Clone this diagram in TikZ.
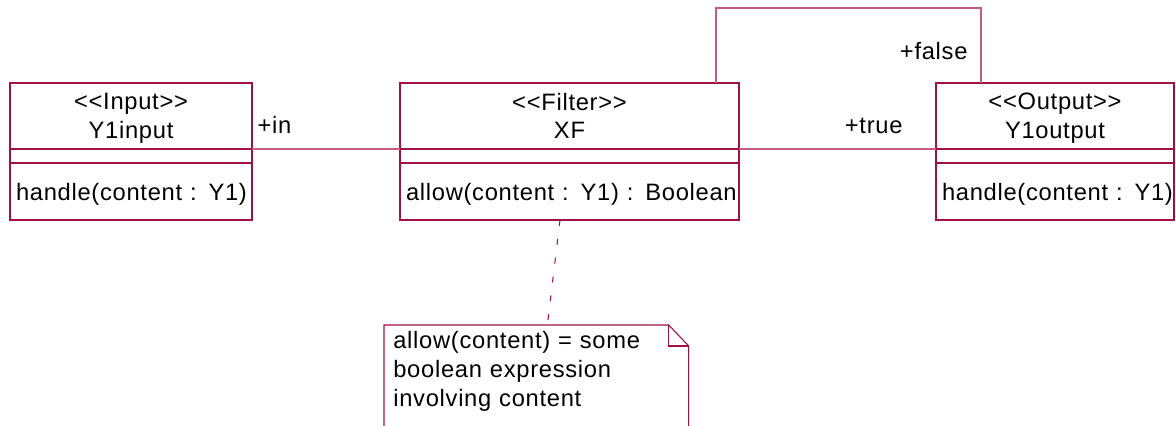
\documentclass[tikz,border=0pt]{standalone}
\usepackage{fontspec}
\setmainfont{Liberation Sans}[LetterSpace=3]
\usepackage{tikz}
\usetikzlibrary{calc, positioning}

\definecolor{umlbox}{RGB}{160,16,64}
\definecolor{umlline}{RGB}{196,92,130}

\begin{document}
\begin{tikzpicture}[
    font=\fontsize{13.5pt}{16.4pt}\selectfont,
    classname/.style={
        rectangle, draw=umlbox, line width=0.6pt, fill=white,
        minimum height=1.32cm, inner sep=0pt, outer sep=0pt,
        text depth=0pt, align=center
    },
    classattr/.style={
        rectangle, draw=umlbox, line width=0.6pt, fill=white,
        minimum height=0.28cm, inner sep=0pt, outer sep=0pt
    },
    classops/.style={
        rectangle, draw=umlbox, line width=0.6pt, fill=white,
        minimum height=1.14cm, inner xsep=0.12cm, inner ysep=0pt, outer sep=0pt,
        text depth=0pt, align=left
    },
    notetext/.style={
        anchor=north west, inner xsep=0.18cm, inner ysep=0.12cm,
        text width=5.72cm, align=left
    },
    assoc/.style={
        line width=0.6pt, draw=umlline
    },
    rolelbl/.style={
        inner sep=0pt
    },
    notebox/.style={
        line width=0.6pt, draw=umlbox
    },
    noteline/.style={
        line width=0.6pt, draw=umlbox, dash pattern=on 3.4pt off 7.4pt
    }
]
    \useasboundingbox (0,0) rectangle (23.52, 8.52);

    % --- NODES ---
    \node [classname, minimum width=4.84cm] (input-name) at (2.62, 6.2) {<{}<Input>{}>\\Y1input};
    \node [classattr, below=0pt of input-name, minimum width=4.84cm] (input-attr) {};
    \node [classops, below=0pt of input-attr, text width=4.60cm] (input-ops) {\mbox{handle(content : Y1)}};

    \node [classname, right=2.96cm of input-name, minimum width=6.78cm] (filter-name) {<{}<Filter>{}>\\XF};
    \node [classattr, below=0pt of filter-name, minimum width=6.78cm] (filter-attr) {};
    \node [classops, below=0pt of filter-attr, text width=6.54cm] (filter-ops) {\mbox{allow(content : Y1) : Boolean}};

    \node [classname, right=3.94cm of filter-name, minimum width=4.76cm] (output-name) {<{}<Output>{}>\\Y1output};
    \node [classattr, below=0pt of output-name, minimum width=4.76cm] (output-attr) {};
    \node [classops, below=0pt of output-attr, text width=4.52cm] (output-ops) {\mbox{handle(content : Y1)}};

    \node [notetext] (note) at (7.68, 2.02) {allow(content) = some\\boolean expression\\involving content};

    % --- NOTE OUTLINE ---
    \draw [notebox] (note.north west) ++(0,-2.3) -- (note.north west)
        -- ([xshift=-0.4cm]note.north east) -- ([yshift=-0.42cm]note.north east) -- ++(0,-1.9);
    \draw [notebox] ([xshift=-0.4cm]note.north east) |- ([yshift=-0.42cm]note.north east);

    % --- CONNECTORS ---
    \draw [assoc] (input-name.south east) -- node[rolelbl, pos=0, anchor=base west, xshift=0.1cm, yshift=0.3cm]{+in} (filter-name.south west);
    \draw [assoc] (filter-name.south east) -- node[rolelbl, pos=1, anchor=base east, xshift=-0.66cm, yshift=0.3cm]{+true} (output-name.south west);
    \draw [assoc] ([xshift=-0.46cm]filter-name.north east) -- ++(0,1.5)
        -| node[rolelbl, pos=1, anchor=base east, xshift=-0.26cm, yshift=0.46cm]{+false} ([xshift=0.9cm]output-name.north west);

    \draw [noteline] ([xshift=-0.19cm]filter-ops.south) -- ([xshift=0.22cm]note.north);

\end{tikzpicture}
\end{document}
